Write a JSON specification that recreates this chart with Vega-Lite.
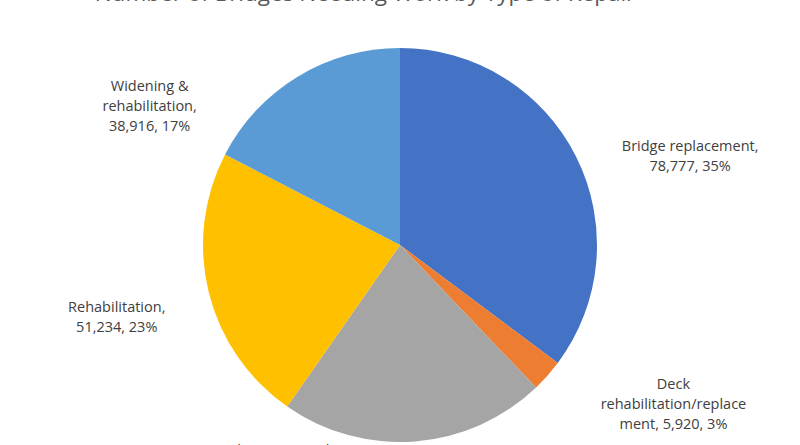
{
  "$schema": "https://vega.github.io/schema/vega-lite/v6.json",
  "width": 800,
  "height": 490,
  "autosize": "none",
  "padding": 0,
  "background": "white",
  "view": {"stroke": null},
  "title": {
    "text": "Number of Bridges Needing Work by Type of Repair",
    "font": "Open Sans",
    "fontSize": 22.5,
    "fontWeight": "normal",
    "color": "#595959",
    "anchor": "middle",
    "offset": -5,
    "dx": -35
  },
  "data": {
    "values": [
      {"category": "Bridge replacement", "count": 78777, "label": "Bridge replacement,\n78,777, 35%"},
      {"category": "Deck rehabilitation/replacement", "count": 5920, "label": "Deck\nrehabilitation/replace\nment, 5,920, 3%"},
      {"category": "Other structural work", "count": 48850, "label": "Other structural\nwork, 48,850, 22%"},
      {"category": "Rehabilitation", "count": 51234, "label": "Rehabilitation,\n51,234, 23%"},
      {"category": "Widening & rehabilitation", "count": 38916, "label": "Widening &\nrehabilitation,\n38,916, 17%"}
    ]
  },
  "encoding": {
    "theta": {"field": "count", "type": "quantitative", "stack": true},
    "order": {"field": "category", "sort": "ascending"}
  },
  "layer": [
    {
      "mark": {"type": "arc", "radius": 197},
      "encoding": {
        "color": {
          "field": "category",
          "type": "nominal",
          "scale": {
            "domain": ["Bridge replacement", "Deck rehabilitation/replacement", "Other structural work", "Rehabilitation", "Widening & rehabilitation"],
            "range": ["#4472C4", "#ED7D31", "#A5A5A5", "#FFC000", "#5B9BD5"]
          },
          "legend": null
        }
      }
    },
    {
      "mark": {"type": "text", "radius": 197, "dx": 114, "dy": -10, "font": "Open Sans", "fontSize": 14.5, "lineHeight": 20, "lineBreak": "\n", "align": "center", "baseline": "middle", "color": "#404040"},
      "encoding": {"text": {"condition": {"test": "datum.category === 'Bridge replacement'", "field": "label"}, "value": ""}}
    },
    {
      "mark": {"type": "text", "radius": 197, "dx": 126, "dy": 9, "font": "Open Sans", "fontSize": 14.5, "lineHeight": 20, "lineBreak": "\n", "align": "center", "baseline": "middle", "color": "#404040"},
      "encoding": {"text": {"condition": {"test": "datum.category === 'Deck rehabilitation/replacement'", "field": "label"}, "value": ""}}
    },
    {
      "mark": {"type": "text", "radius": 197, "dx": -140, "dy": 10, "font": "Open Sans", "fontSize": 14.5, "lineHeight": 20, "lineBreak": "\n", "align": "center", "baseline": "middle", "color": "#404040"},
      "encoding": {"text": {"condition": {"test": "datum.category === 'Other structural work'", "field": "label"}, "value": ""}}
    },
    {
      "mark": {"type": "text", "radius": 197, "dx": -92, "dy": 16, "font": "Open Sans", "fontSize": 14.5, "lineHeight": 20, "lineBreak": "\n", "align": "center", "baseline": "middle", "color": "#404040"},
      "encoding": {"text": {"condition": {"test": "datum.category === 'Rehabilitation'", "field": "label"}, "value": ""}}
    },
    {
      "mark": {"type": "text", "radius": 197, "dx": -148, "dy": 10, "font": "Open Sans", "fontSize": 14.5, "lineHeight": 20, "lineBreak": "\n", "align": "center", "baseline": "middle", "color": "#404040"},
      "encoding": {"text": {"condition": {"test": "datum.category === 'Widening & rehabilitation'", "field": "label"}, "value": ""}}
    }
  ]
}
